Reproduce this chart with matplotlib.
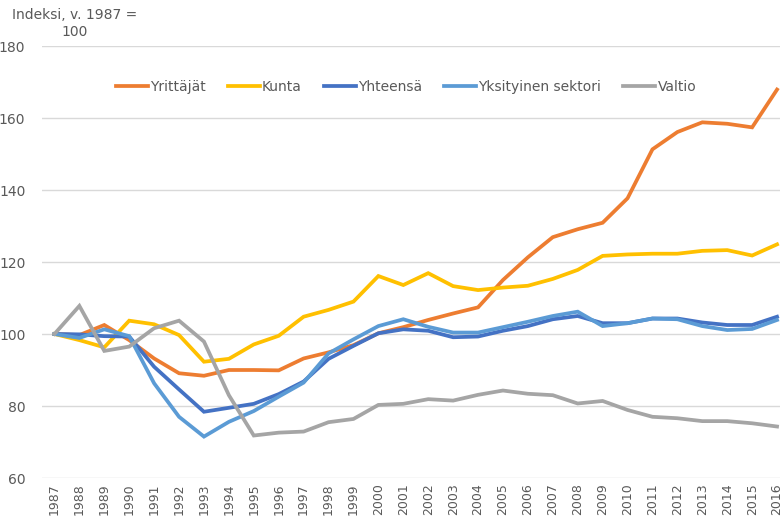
import numpy as np
import matplotlib.pyplot as plt

plt.rcParams['font.family'] = ['Liberation Sans Narrow', 'DejaVu Sans']

years = [str(y) for y in range(1987, 2017)]

yrittajat = [100, 99.7, 102.5, 98.3, 93.2, 89.1, 88.4, 90.0, 90.0, 89.9,
             93.2, 94.9, 96.9, 100.2, 101.9, 103.9, 105.7, 107.4, 115.0, 121.3,
             126.9, 129.1, 130.9, 137.7, 151.3, 156.1, 158.8, 158.4, 157.4, 167.9]
kunta = [100, 98.3, 96.3, 103.7, 102.7, 99.7, 92.3, 93.1, 97.1, 99.5,
         104.8, 106.7, 109.0, 116.1, 113.6, 116.9, 113.3, 112.2, 112.9, 113.4,
         115.3, 117.8, 121.7, 122.1, 122.3, 122.3, 123.1, 123.3, 121.8, 124.9]
yhteensa = [100, 99.9, 99.4, 99.3, 90.9, 84.6, 78.4, 79.5, 80.6, 83.3,
            86.8, 93.1, 96.7, 100.2, 101.3, 100.9, 99.1, 99.3, 100.9, 102.2,
            104.1, 105.0, 103.0, 103.0, 104.3, 104.3, 103.2, 102.5, 102.5, 104.8]
yksityinen = [100, 98.9, 101.3, 99.4, 86.3, 77.0, 71.5, 75.6, 78.6, 82.6,
              86.5, 94.6, 98.5, 102.2, 104.1, 102.0, 100.4, 100.4, 101.9, 103.4,
              105.0, 106.2, 102.2, 103.0, 104.3, 104.1, 102.2, 101.1, 101.4, 103.9]
valtio = [100, 107.8, 95.3, 96.5, 101.6, 103.7, 97.9, 83.0, 71.8, 72.6,
          72.9, 75.5, 76.4, 80.3, 80.6, 81.9, 81.5, 83.1, 84.3, 83.4,
          83.0, 80.7, 81.4, 78.9, 77.0, 76.6, 75.8, 75.8, 75.2, 74.3]

series = [
    ('Yrittäjät', yrittajat, '#ED7D31'),
    ('Kunta', kunta, '#FFC000'),
    ('Yhteensä', yhteensa, '#4472C4'),
    ('Yksityinen sektori', yksityinen, '#5B9BD5'),
    ('Valtio', valtio, '#A5A5A5'),
]

fig = plt.figure(figsize=(7.8, 5.18), dpi=100)
ax = fig.add_axes([42 / 780, 1 - 478 / 518, 747.5 / 780, 432 / 518])

x = np.arange(len(years))
for name, vals, col in series:
    ax.plot(x, vals, color=col, lw=2.7, label=name, solid_joinstyle='miter')

ax.set_xlim(-0.5, len(years) - 0.5)
ax.set_ylim(60, 180)
ax.set_yticks(range(60, 181, 20))
ax.set_xticks(x)
ax.set_xticklabels(years, rotation=90, fontsize=9, color='#595959')
ax.tick_params(axis='y', labelsize=10, labelcolor='#595959', length=0, pad=12)
ax.tick_params(axis='x', length=0, pad=4)
ax.grid(axis='y', color='#D9D9D9', lw=1)
ax.set_axisbelow(True)
for s in ax.spines.values():
    s.set_visible(False)

# two-line axis title at top left
fig.text(75 / 780, 1 - 8 / 518, 'Indeksi, v. 1987 =\n100', ha='center', va='top',
         fontsize=10, color='#595959', linespacing=1.3)

ax.legend(loc='upper center', bbox_to_anchor=(0.487, 0.95), ncol=5, frameon=False,
          fontsize=10, handlelength=2.3, columnspacing=1.6, handletextpad=0.15,
          labelcolor='#595959', bbox_transform=ax.transAxes)

fig.savefig('out.png', dpi=100)
